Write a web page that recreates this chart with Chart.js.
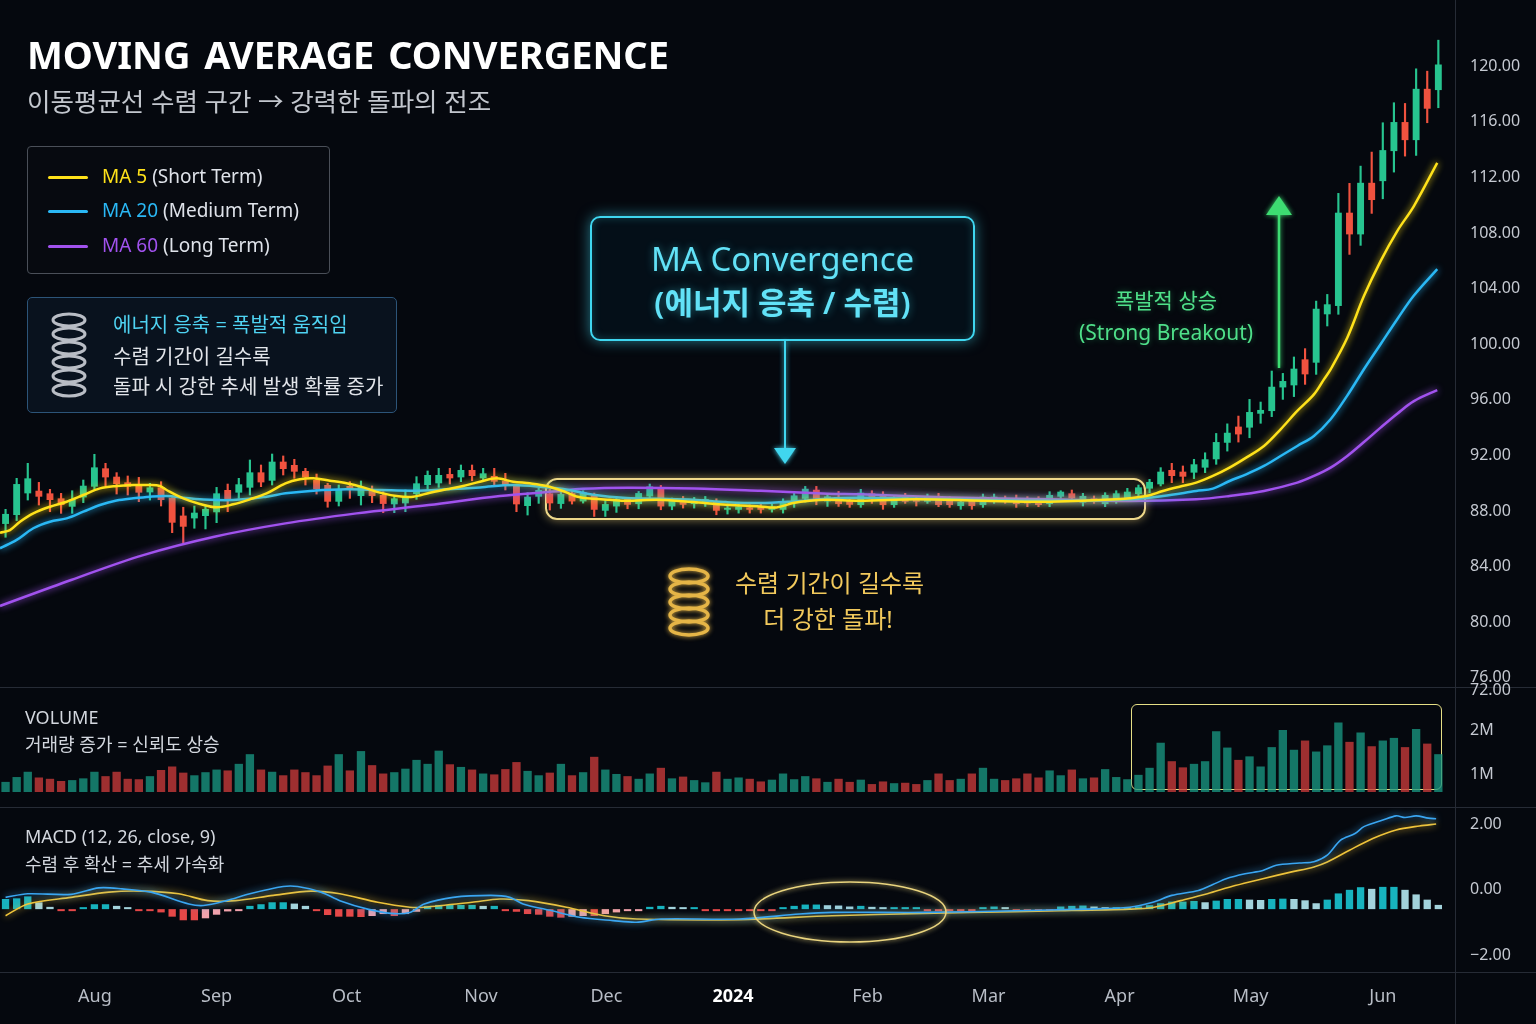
<!DOCTYPE html>
<html lang="ko">
<head>
  <meta charset="UTF-8" />
  <title>Moving Average Convergence</title>
  <script src="https://cdn.jsdelivr.net/npm/chart.js@4"></script>
  <style>
    body {
      margin: 0;
      background: #05080e;
      font-family: "Noto Sans", "Noto Sans CJK KR", sans-serif;
    }

    #stage {
      position: relative;
      width: 1536px;
      height: 1024px;
      overflow: hidden;
      background: #05080e;
    }

    canvas { position: absolute; left: 0; z-index: 1; }
    .abs { position: absolute; white-space: nowrap; }
    .under { z-index: 0; }
    .over { z-index: 2; }

    .sep-h { position: absolute; left: 0; width: 1536px; height: 1px; background: #262b35; z-index: 2; }
    .sep-v { position: absolute; left: 1455px; top: 0; width: 1px; height: 1024px; background: #262b35; z-index: 2; }

    .legend {
      border: 1px solid #4a4f58;
      border-radius: 4px;
      background: rgba(8, 11, 17, 0.9);
    }
    .legend .row { position: absolute; left: 20px; height: 24px; line-height: 24px; font-size: 19px; color: #dfe3ea; }
    .legend .sw { display: inline-block; width: 40px; height: 3px; vertical-align: middle; margin-right: 14px; border-radius: 2px; }

    .note {
      border: 1px solid #2c5478;
      border-radius: 5px;
      background: rgba(16, 32, 50, 0.45);
    }
    .note .ln { position: absolute; left: 85px; height: 26px; line-height: 26px; font-size: 20px; color: #e2e5ea; }

    .conv {
      border: 2px solid #3fd6ef;
      border-radius: 10px;
      background: rgba(4, 18, 28, 0.7);
      box-shadow: 0 0 14px rgba(63, 214, 239, 0.55), inset 0 0 8px rgba(63, 214, 239, 0.25);
      color: #62e2f7;
      text-align: center;
      text-shadow: 0 0 8px rgba(63, 214, 239, 0.45);
    }

    .panel-lbl { left: 25px; height: 24px; line-height: 24px; font-size: 18px; color: #d3d7de; }
  </style>
</head>
<body>
<div id="stage">

  <!-- shapes sitting behind the candles -->
  <div class="abs under" style="left:545px; top:478px; width:597px; height:38px; border:2px solid #efd98a; border-radius:12px; background:rgba(110,100,60,0.18); box-shadow:0 0 10px rgba(240,210,120,0.55);"></div>
  <div class="abs under" style="left:1131px; top:704px; width:309px; height:84px; border:1.5px solid #e6df86; border-radius:6px;"></div>

  <canvas id="price" width="1536" height="687" style="top:0"></canvas>
  <canvas id="volume" width="1536" height="105" style="top:687px"></canvas>
  <canvas id="macd" width="1536" height="217" style="top:807px"></canvas>

  <div class="sep-h" style="top:687px"></div>
  <div class="sep-h" style="top:807px"></div>
  <div class="sep-h" style="top:972px"></div>
  <div class="sep-v"></div>

  <!-- title -->
  <div class="abs over" style="left:27px; top:28px; font-size:38px; font-weight:700; color:#ffffff; line-height:52px; word-spacing:4px;">MOVING AVERAGE CONVERGENCE</div>
  <div class="abs over" style="left:27px; top:85px; font-size:25.5px; color:#c3c7ce; line-height:32px;">이동평균선 수렴 구간 → 강력한 돌파의 전조</div>

  <!-- legend -->
  <div class="abs over legend" style="left:27px; top:146px; width:301px; height:126px;">
    <div class="row" style="top:17px"><span class="sw" style="background:#ffe21a"></span><span style="color:#ffe21a">MA 5</span> (Short Term)</div>
    <div class="row" style="top:51px"><span class="sw" style="background:#2ab8f5"></span><span style="color:#2ab8f5">MA 20</span> (Medium Term)</div>
    <div class="row" style="top:86px"><span class="sw" style="background:#a152ee"></span><span style="color:#a152ee">MA 60</span> (Long Term)</div>
  </div>

  <div class="abs over note" style="left:27px; top:297px; width:368px; height:114px;">
    <div class="ln" style="top:14px; color:#4fd3f2;">에너지 응축 = 폭발적 움직임</div>
    <div class="ln" style="top:46px;">수렴 기간이 길수록</div>
    <div class="ln" style="top:76px;">돌파 시 강한 추세 발생 확률 증가</div>
  </div>

  <div class="abs over conv" style="left:590px; top:216px; width:381px; height:121px;">
    <div style="position:absolute; left:0; right:0; top:20px; line-height:42px; font-size:33px;">MA Convergence</div>
    <div style="position:absolute; left:0; right:0; top:63px; line-height:42px; font-size:31px; font-weight:600;">(에너지 응축 / 수렴)</div>
  </div>

  <div class="abs over" style="left:735px; top:568px; line-height:30px; font-size:24px; color:#f2c95c;">수렴 기간이 길수록</div>
  <div class="abs over" style="left:728px; width:200px; text-align:center; top:604px; line-height:30px; font-size:24px; color:#f2c95c;">더 강한 돌파!</div>

  <div class="abs over" style="left:1066px; width:200px; text-align:center; top:286px; line-height:28px; font-size:21px; color:#4fe08a; text-shadow:0 0 6px rgba(60,220,120,0.4);">폭발적 상승</div>
  <div class="abs over" style="left:1066px; width:200px; text-align:center; top:318px; line-height:28px; font-size:21px; color:#4fe08a; text-shadow:0 0 6px rgba(60,220,120,0.4);">(Strong Breakout)</div>

  <div class="abs over panel-lbl" style="top:705px;">VOLUME</div>
  <div class="abs over panel-lbl" style="top:732px;">거래량 증가 = 신뢰도 상승</div>
  <div class="abs over panel-lbl" style="top:824px;">MACD (12, 26, close, 9)</div>
  <div class="abs over panel-lbl" style="top:852px;">수렴 후 확산 = 추세 가속화</div>

  <div class="abs over" style="left:1470px; top:679px; line-height:20px; font-size:16px; color:#c5c9d1;">72.00</div>

  <svg class="abs over" width="1536" height="1024" style="left:0; top:0; pointer-events:none;">
    <defs>
      <filter id="gl" filterUnits="userSpaceOnUse" x="0" y="0" width="1536" height="1024">
        <feGaussianBlur stdDeviation="2.5" result="b" />
        <feMerge><feMergeNode in="b" /><feMergeNode in="SourceGraphic" /></feMerge>
      </filter>
    </defs>
    <!-- arrow under the convergence box -->
    <line x1="785" y1="341" x2="785" y2="450" stroke="#3fd6ef" stroke-width="2" filter="url(#gl)" />
    <polygon points="785,464 774,448 796,448" fill="#3fd6ef" filter="url(#gl)" />
    <!-- breakout arrow -->
    <line x1="1279" y1="368" x2="1279" y2="212" stroke="#3ddc72" stroke-width="2.5" filter="url(#gl)" />
    <polygon points="1279,196 1266,215 1292,215" fill="#3ddc72" filter="url(#gl)" />
    <!-- macd ring -->
    <ellipse cx="850" cy="912" rx="96" ry="30" fill="none" stroke="#e9d47e" stroke-width="1.5" filter="url(#gl)" />
    <!-- silver spring -->
    <g fill="none" stroke="#b9bdc5" stroke-width="3">
      <ellipse cx="69" cy="320" rx="16" ry="6" />
      <ellipse cx="69" cy="334" rx="16" ry="6" />
      <ellipse cx="69" cy="348" rx="16" ry="6" />
      <ellipse cx="69" cy="362" rx="16" ry="6" />
      <ellipse cx="69" cy="376" rx="16" ry="6" />
      <ellipse cx="69" cy="390" rx="16" ry="6" />
    </g>
    <!-- gold spring -->
    <g fill="none" stroke="#e5b546" stroke-width="3.5" filter="url(#gl)">
      <ellipse cx="689" cy="576" rx="19" ry="7" />
      <ellipse cx="689" cy="589" rx="19" ry="7" />
      <ellipse cx="689" cy="602" rx="19" ry="7" />
      <ellipse cx="689" cy="615" rx="19" ry="7" />
      <ellipse cx="689" cy="628" rx="19" ry="7" />
    </g>
  </svg>
</div>

<script>
  // candles, one per slot (index 0 .. 129)
  const opens = [87.07,87.71,89.27,89.46,89.27,88.91,88.31,88.98,89.75,91.07,
    90.47,90.06,89.82,89.34,89.70,88.96,87.67,87.47,87.64,87.91,
    89.51,89.32,89.68,90.78,90.18,91.55,91.31,90.88,90.23,89.87,
    88.67,89.80,89.08,89.46,89.15,88.48,88.55,89.22,89.87,89.99,
    90.66,90.42,90.95,90.35,90.52,90.18,89.87,88.36,89.03,89.27,
    88.51,89.29,88.69,89.22,88.02,88.33,88.88,88.50,89.05,89.70,
    88.33,88.88,88.50,88.57,88.69,88.09,88.09,88.26,88.33,88.09,
    88.09,88.57,88.88,89.53,88.69,88.81,88.74,88.43,89.27,89.22,
    88.43,89.03,88.91,88.67,89.03,88.84,88.36,88.79,88.43,88.74,
    88.91,88.91,88.84,88.84,88.50,89.03,89.27,88.60,88.91,88.50,
    88.67,88.91,89.22,89.61,89.92,90.95,90.83,90.76,91.12,91.72,
    92.91,94.07,94.00,95.00,95.19,96.89,97.04,98.91,98.67,102.15,
    102.75,109.46,107.90,111.61,111.73,113.89,115.98,114.68,118.37,118.28];
  const highs = [88.12,90.35,91.43,90.06,89.56,89.27,89.46,90.23,92.08,91.43,
    90.76,90.52,90.42,89.99,90.11,88.96,88.27,88.36,88.36,89.70,
    89.94,90.35,91.67,91.31,92.10,91.96,91.72,91.07,90.66,89.99,
    89.87,90.11,90.16,89.80,89.39,89.08,89.51,90.47,90.88,91.07,
    91.07,91.31,91.31,91.07,91.07,90.71,89.87,89.32,89.63,89.56,
    89.51,89.53,89.46,89.29,88.81,89.05,88.98,89.41,89.94,89.84,
    88.93,89.05,88.98,89.05,88.88,88.50,88.57,88.45,88.57,88.50,
    88.88,89.41,89.77,89.77,89.22,89.41,88.98,89.56,89.46,89.39,
    89.08,89.27,89.03,89.22,89.27,89.03,88.84,88.98,89.22,89.22,
    89.08,89.15,89.03,89.03,89.39,89.46,89.51,89.27,89.08,89.32,
    89.46,89.63,89.87,90.28,91.12,91.43,91.24,91.72,92.19,93.58,
    94.27,94.83,96.03,95.84,98.07,97.90,99.08,99.68,103.10,103.58,
    110.85,111.57,112.81,113.82,115.93,117.37,117.32,119.81,119.64,121.87];
  const lows = [86.11,87.31,88.79,88.43,87.95,87.83,87.83,88.60,89.56,89.82,
    89.22,89.15,88.67,88.79,88.36,86.44,85.72,86.76,86.71,87.16,
    87.95,88.91,89.15,89.75,89.87,90.59,90.35,89.87,89.22,88.27,
    88.36,88.91,88.43,88.60,87.88,87.88,87.95,88.84,89.56,89.70,
    89.94,90.11,90.18,90.18,89.80,89.51,87.95,87.71,88.55,88.07,
    88.19,88.50,88.57,87.61,87.61,87.90,88.16,88.16,88.81,88.09,
    88.09,88.21,88.21,88.33,87.73,87.78,87.85,87.85,87.85,87.92,
    87.85,88.26,88.64,88.45,88.33,88.33,88.26,88.26,88.55,88.12,
    88.26,88.55,88.36,88.55,88.31,88.26,88.12,88.12,88.26,88.55,
    88.55,88.26,88.31,88.31,88.31,88.91,88.67,88.36,88.55,88.31,
    88.55,88.74,89.03,89.32,89.80,90.04,90.04,90.33,90.76,91.36,
    92.31,92.96,93.27,94.31,94.79,96.03,96.23,97.11,97.83,101.31,
    102.15,106.46,107.11,109.41,110.46,112.38,113.53,113.58,115.93,117.01];
  const closes = [87.79,89.94,90.35,89.03,88.79,88.43,88.84,89.82,91.14,90.42,
    89.94,89.75,89.32,89.70,88.79,87.16,86.87,87.88,88.15,89.27,
    88.84,89.92,90.78,90.06,91.55,91.02,90.83,90.42,89.56,88.67,
    89.56,89.56,89.75,89.08,88.51,88.91,89.03,89.99,90.59,90.59,
    90.35,90.95,90.52,90.71,90.11,89.80,88.48,89.03,89.51,88.55,
    89.22,88.69,89.36,88.09,88.50,88.88,88.45,89.29,89.77,88.33,
    88.74,88.45,88.81,88.86,88.02,88.21,88.33,88.09,88.09,88.33,
    88.64,89.12,89.60,88.88,89.05,88.50,88.45,89.32,88.84,88.43,
    88.79,88.67,88.67,89.08,88.43,88.43,88.67,88.36,89.03,89.03,
    88.67,88.50,88.55,88.43,89.15,89.39,88.91,89.08,88.67,89.15,
    89.27,89.39,89.70,90.09,90.83,90.52,90.47,91.36,91.72,92.96,
    93.63,93.51,95.12,95.27,96.94,97.35,98.24,97.83,102.55,102.87,
    109.46,107.90,111.61,110.37,113.96,115.98,114.68,118.37,116.94,120.12];

  // volume in millions
  const volumes = [0.82,0.93,1.05,0.92,0.89,0.84,0.86,0.90,1.05,0.95,
    1.05,0.89,0.88,0.95,1.09,1.17,1.03,0.97,1.04,1.10,
    1.08,1.23,1.45,1.10,1.05,0.97,1.10,1.04,0.97,1.19,
    1.45,1.08,1.52,1.20,1.01,1.04,1.12,1.32,1.23,1.53,
    1.22,1.16,1.10,1.01,0.99,1.11,1.27,1.07,0.97,1.03,
    1.23,0.97,1.04,1.39,1.10,1.00,0.95,0.89,1.01,1.14,
    0.90,0.94,0.86,0.81,1.05,0.89,0.92,0.89,0.83,0.87,
    1.01,0.88,0.95,0.90,0.82,0.89,0.82,0.87,0.77,0.83,
    0.79,0.80,0.77,0.86,1.01,0.86,0.89,1.01,1.14,0.89,
    0.86,0.90,1.01,0.92,1.08,0.97,1.10,0.90,0.92,1.11,
    0.93,0.88,0.98,1.14,1.71,1.29,1.15,1.23,1.29,1.97,
    1.60,1.32,1.40,1.17,1.61,2.00,1.55,1.76,1.51,1.65,
    2.17,1.73,1.94,1.63,1.76,1.82,1.61,2.02,1.69,1.45];

  const macdHist = [0.31,0.33,0.39,0.21,0.07,-0.03,-0.03,0.03,0.15,0.15,
    0.10,0.05,-0.03,-0.05,-0.10,-0.23,-0.34,-0.34,-0.28,-0.17,
    -0.07,-0.03,0.10,0.15,0.21,0.21,0.17,0.10,-0.03,-0.18,
    -0.23,-0.23,-0.24,-0.21,-0.15,-0.21,-0.15,-0.08,0.10,0.13,
    0.13,0.13,0.13,0.10,0.10,-0.03,-0.08,-0.15,-0.17,-0.23,
    -0.26,-0.23,-0.21,-0.21,-0.15,-0.10,-0.05,-0.03,0.07,0.10,
    0.07,0.05,0.05,-0.03,-0.03,-0.03,-0.03,-0.03,-0.03,-0.03,
    0.04,0.10,0.14,0.14,0.12,0.11,0.08,0.10,0.07,0.04,
    0.04,0.04,0.04,-0.03,-0.03,-0.03,-0.03,-0.03,0.06,0.08,
    0.06,-0.02,-0.02,-0.02,-0.02,0.08,0.10,0.11,0.08,0.05,
    0.05,0.05,0.08,0.12,0.18,0.23,0.23,0.25,0.21,0.26,
    0.31,0.31,0.29,0.28,0.31,0.32,0.31,0.27,0.18,0.29,
    0.48,0.59,0.67,0.62,0.68,0.68,0.59,0.45,0.29,0.13];

  // moving averages as [slot, price] points
  const ma5Pts = [[-0.5,86.44],[0.4,86.63],[1.3,87.23],[2.5,87.83],[4,88.31],[5.5,88.67],[7,89.15],[8.5,89.63],
    [10,89.8],[11.5,89.87],[13,89.87],[13.9,89.8],[14.5,89.51],[16,88.91],[17.5,88.51],[19,88.27],[20.5,88.48],
    [22,88.84],[23.5,89.27],[25.2,89.99],[26.5,90.28],[27.7,90.35],[29.2,90.18],[30.7,89.99],[32.2,89.7],
    [33.7,89.32],[35.2,89.08],[36.7,89.03],[38.2,89.32],[39.7,89.56],[41.2,89.8],[42.7,90.11],[44.2,90.35],
    [45.7,90.11],[47.2,89.99],[48.7,89.8],[50.3,89.4],[51.4,89.05],[52.9,88.88],[54.4,88.81],[55.9,88.74],
    [58.9,88.81],[61.9,88.64],[64.9,88.45],[67.9,88.33],[69.4,88.26],[70.9,88.57],[72.4,88.74],[73.9,88.81],
    [76.9,88.74],[82,88.84],[88,88.74],[94,88.67],[100,88.84],[102.7,89.08],[104.2,89.44],[105.7,89.75],
    [107.2,90.04],[108.7,90.52],[110.2,91.12],[111.7,91.84],[113.3,92.68],[114.8,93.88],[116.3,95.2],
    [117.8,96.39],[118.7,97.47],[119.3,98.19],[120.8,100.47],[122.3,103.46],[123.8,105.98],[125.3,108.14],
    [126.8,109.94],[128.9,113.05]];
  const ma20Pts = [[-0.5,85.32],[1,85.92],[2.5,86.76],[4,87.23],[5.5,87.47],[7,87.95],[8.5,88.43],[10,88.75],
    [11.5,88.91],[13,89.03],[14.5,89.08],[16,88.96],[17.5,88.84],[20.5,88.79],[23.5,89.03],[25.2,89.27],
    [27.7,89.46],[30.7,89.56],[33.7,89.51],[36.7,89.46],[39.7,89.56],[42.7,89.7],[45.7,89.87],[48.7,89.7],
    [50.5,89.55],[52.9,89.17],[55.9,88.93],[58.9,88.88],[61.9,88.81],[64.9,88.64],[67.9,88.57],[70.9,88.69],
    [73.9,88.88],[76.9,88.95],[85,88.84],[94,88.74],[101.2,88.85],[104.2,89.08],[107.2,89.44],[108.7,89.61],
    [110.2,90.16],[111.7,90.64],[113.3,91.24],[114.8,91.96],[116.3,92.68],[117.8,93.4],[119.3,94.6],
    [120.8,96.3],[122.3,98.2],[123.8,100.0],[125.3,101.8],[126.8,103.5],[128.9,105.4]];
  const ma60Pts = [[-0.5,81.17],[5.9,83.04],[12.4,84.83],[18.8,86.15],[25.2,87.11],[31.6,87.83],[38.1,88.43],
    [44.5,89.08],[49.3,89.4],[52,89.6],[56,89.68],[62,89.62],[68,89.45],[74,89.25],[77,89.2],[85,88.98],
    [94,88.84],[101.2,88.72],[107.2,88.84],[110.2,89.08],[113.3,89.44],[116.3,90.04],[117.8,90.52],
    [119.3,91.12],[120.8,91.96],[122.3,92.96],[123.8,94.0],[125.3,95.0],[126.8,95.9],[128.9,96.7]];

  const macdPts = [[0,-0.24],[2,-0.13],[5.9,-0.15],[8.4,0.05],[10.5,0.02],[13.1,-0.08],[16.5,-0.44],[17.8,-0.49],
    [19.9,-0.34],[22,-0.13],[25,0.09],[26.3,0.09],[28.4,-0.08],[30.1,-0.34],[32.6,-0.6],[34.7,-0.73],
    [36.4,-0.7],[37.7,-0.44],[40.3,-0.24],[43.7,-0.18],[45.4,-0.24],[46.6,-0.44],[49.2,-0.65],[51.7,-0.85],
    [54.7,-0.95],[56.8,-1.0],[59,-0.9],[66.1,-0.9],[71.5,-0.75],[74.4,-0.7],[82.6,-0.7],[90.9,-0.65],
    [97.1,-0.6],[101.2,-0.54],[103.3,-0.39],[105,-0.18],[107.4,-0.03],[108.7,0.15],[109.9,0.33],[111.6,0.48],
    [113.2,0.58],[114.4,0.74],[116.5,0.81],[117.8,0.85],[119,1.05],[120.2,1.51],[121.5,1.71],[122.3,1.92],
    [124,2.12],[125.2,2.25],[126,2.2],[127,2.25],[128.1,2.18],[128.8,2.16]];
  const signalPts = [[0,-0.8],[2,-0.44],[5.9,-0.24],[9.3,-0.08],[12.2,-0.05],[15.6,-0.13],[18.2,-0.34],[20.7,-0.34],
    [24.1,-0.18],[27.5,-0.05],[30.1,-0.13],[33.5,-0.39],[36.4,-0.54],[37.7,-0.54],[42,-0.39],[44.5,-0.29],
    [47.1,-0.34],[50.5,-0.54],[53.9,-0.8],[56.8,-0.9],[66.1,-0.92],[74.4,-0.8],[82.6,-0.73],[86.8,-0.7],
    [95,-0.65],[101.2,-0.6],[103.3,-0.55],[105.8,-0.34],[108.2,-0.13],[110.7,0.12],[113.2,0.33],[115.7,0.53],
    [117.8,0.69],[119,0.84],[121,1.2],[123.1,1.56],[125.2,1.82],[127.3,1.94],[128.8,2.0]];

  // axis ticks
  const priceTicks = [76, 80, 84, 88, 92, 96, 100, 104, 108, 112, 116, 120];
  const volTicks = [1, 2];
  const macdTicks = [-2, 0, 2];
  const monthNames = ['Aug', 'Sep', 'Oct', 'Nov', 'Dec', '2024', 'Feb', 'Mar', 'Apr', 'May', 'Jun'];
  const monthPos = [8.05, 19.0, 30.7, 42.8, 54.1, 65.5, 77.6, 88.5, 100.3, 112.1, 124.0];

  const UP = '#27c48f';
  const DOWN = '#f0523f';
  const slots = closes.map((_, i) => i);
  const isUp = i => closes[i] >= opens[i];
  const pts = arr => arr.map(([x, y]) => ({ x, y }));

  // soft glow under the lines
  const glow = {
    id: 'glow',
    beforeDatasetDraw(chart, args) {
      const ds = chart.data.datasets[args.index];
      if (ds.type !== 'line') return;
      chart.ctx.save();
      chart.ctx.shadowColor = ds.borderColor;
      chart.ctx.shadowBlur = 7;
    },
    afterDatasetDraw(chart, args) {
      if (chart.data.datasets[args.index].type === 'line') chart.ctx.restore();
    }
  };

  const noPad = s => { s.paddingTop = 0; s.paddingBottom = 0; s.paddingLeft = 0; s.paddingRight = 0; };

  function xAxis(show) {
    return {
      type: 'linear',
      min: -0.5,
      max: 130.5,
      offset: false,
      display: show,
      afterBuildTicks: s => { s.ticks = monthPos.map(v => ({ value: v })); },
      afterFit: s => { s.height = show ? 52 : 0; noPad(s); },
      grid: { display: false, drawTicks: false },
      border: { display: false },
      ticks: {
        autoSkip: false,
        maxRotation: 0,
        padding: 14,
        callback: (v, i) => monthNames[i],
        color: c => (c.index === 5 ? '#ffffff' : '#b8bdc6'),
        font: c => ({ family: 'Noto Sans', size: 18, weight: c.index === 5 ? 'bold' : 'normal' })
      }
    };
  }

  function yAxis(min, max, ticks, fmt) {
    return {
      position: 'right',
      min,
      max,
      afterBuildTicks: s => { s.ticks = ticks.map(v => ({ value: v })); },
      afterFit: s => { s.width = 81; noPad(s); },
      grid: { display: false, drawTicks: false },
      border: { display: false },
      ticks: { padding: 15, color: '#c5c9d1', font: { family: 'Noto Sans', size: 16 }, callback: fmt }
    };
  }

  const base = {
    responsive: false,
    animation: false,
    layout: { padding: 0 },
    plugins: { legend: { display: false }, tooltip: { enabled: false } }
  };

  // price panel
  new Chart(document.getElementById('price'), {
    type: 'bar',
    data: {
      datasets: [
        { type: 'line', label: 'MA 5', data: pts(ma5Pts), borderColor: '#ffe21a', borderWidth: 2.5, pointRadius: 0, tension: 0.35, order: 0 },
        { type: 'line', label: 'MA 20', data: pts(ma20Pts), borderColor: '#2ab8f5', borderWidth: 2.5, pointRadius: 0, tension: 0.35, order: 0 },
        { type: 'line', label: 'MA 60', data: pts(ma60Pts), borderColor: '#a152ee', borderWidth: 2.5, pointRadius: 0, tension: 0.35, order: 0 },
        {
          label: 'body',
          data: slots.map(i => ({ x: i, y: [opens[i], closes[i]] })),
          backgroundColor: c => (isUp(c.dataIndex) ? UP : DOWN),
          grouped: false,
          barPercentage: 0.62,
          categoryPercentage: 1,
          minBarLength: 2,
          order: 1
        },
        {
          label: 'wick',
          data: slots.map(i => ({ x: i, y: [lows[i], highs[i]] })),
          backgroundColor: c => (isUp(c.dataIndex) ? UP : DOWN),
          grouped: false,
          barThickness: 1.5,
          order: 2
        }
      ]
    },
    options: {
      ...base,
      scales: {
        x: xAxis(false),
        y: yAxis(75.34, 124.76, priceTicks, v => v.toFixed(2))
      }
    },
    plugins: [glow]
  });

  // volume panel
  new Chart(document.getElementById('volume'), {
    type: 'bar',
    data: {
      datasets: [{
        label: 'Volume',
        data: slots.map(i => ({ x: i, y: volumes[i] })),
        backgroundColor: c => (isUp(c.dataIndex) ? 'rgba(24,150,128,0.78)' : 'rgba(196,58,58,0.8)'),
        grouped: false,
        barPercentage: 0.75,
        categoryPercentage: 1
      }]
    },
    options: {
      ...base,
      scales: {
        x: xAxis(false),
        y: yAxis(0.59, 2.977, volTicks, v => v + 'M')
      }
    }
  });

  // macd panel
  const histColor = c => {
    const i = c.dataIndex;
    const v = macdHist[i];
    const prev = i > 0 ? macdHist[i - 1] : v;
    if (v >= 0) return v >= prev ? '#17b3be' : '#a3d3dc';
    return v <= prev ? '#e54848' : '#f2a2ac';
  };

  new Chart(document.getElementById('macd'), {
    type: 'bar',
    data: {
      datasets: [
        { type: 'line', label: 'MACD', data: pts(macdPts), borderColor: '#3aa6f2', borderWidth: 1.6, pointRadius: 0, tension: 0.3, yAxisID: 'y', order: 0 },
        { type: 'line', label: 'Signal', data: pts(signalPts), borderColor: '#f0c43a', borderWidth: 1.6, pointRadius: 0, tension: 0.3, yAxisID: 'y', order: 0 },
        {
          label: 'Histogram',
          data: slots.map(i => ({ x: i, y: macdHist[i] })),
          backgroundColor: histColor,
          grouped: false,
          barPercentage: 0.66,
          categoryPercentage: 1,
          minBarLength: 2,
          yAxisID: 'yh',
          order: 1
        }
      ]
    },
    options: {
      ...base,
      scales: {
        x: xAxis(true),
        y: yAxis(-2.52, 2.52, macdTicks, v => (v < 0 ? '\u2212' + Math.abs(v).toFixed(2) : v.toFixed(2))),
        yh: { display: false, min: -1.92, max: 3.12 }
      }
    },
    plugins: [glow]
  });
</script>
</body>
</html>
